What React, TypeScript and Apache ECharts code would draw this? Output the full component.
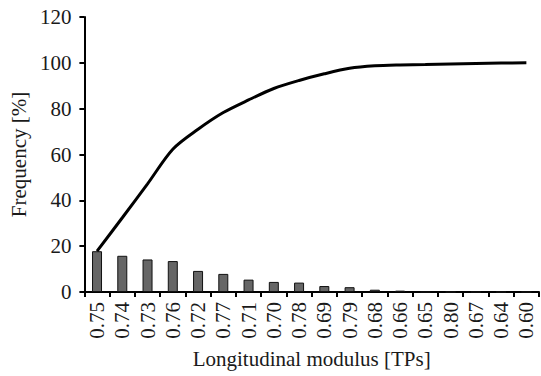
import React, { useEffect, useRef } from "react";
import * as echarts from "echarts";

const categories = ["0.75", "0.74", "0.73", "0.76", "0.72", "0.77", "0.71", "0.70", "0.78", "0.69", "0.79", "0.68", "0.66", "0.65", "0.80", "0.67", "0.64", "0.60"];
const frequency = [17.8, 15.8, 14.2, 13.5, 9.2, 7.9, 5.4, 4.4, 4.1, 2.6, 2.1, 1.0, 0.6, 0, 0, 0, 0, 0];
const cumulative = [17.8, 32.4, 47.2, 62.3, 71.0, 78.3, 83.8, 88.8, 92.3, 95.2, 97.6, 98.7, 99.1, 99.3, 99.5, 99.7, 99.9, 100];
const yTicks = { min: 0, max: 120, interval: 20 };

const FONT = "'Liberation Serif', 'Times New Roman', serif";

export default function App() {
  const ref = useRef<HTMLDivElement>(null);
  useEffect(() => {
    if (!ref.current) return;
    const chart = echarts.init(ref.current, undefined, { renderer: "svg" });
    chart.setOption({
      animation: false,
      backgroundColor: "#ffffff",
      grid: { left: 79, right: 2, top: 17, bottom: 84, containLabel: false },
      xAxis: {
        type: "category",
        data: categories,
        boundaryGap: true,
        name: "Longitudinal modulus [TPs]",
        nameLocation: "middle",
        nameGap: 56,
        nameTextStyle: { fontFamily: FONT, fontSize: 21, color: "#1a1a1a" },
        axisLine: { lineStyle: { color: "#000", width: 2 } },
        axisTick: { show: true, length: 5, lineStyle: { color: "#000", width: 2 }, alignWithLabel: false },
        axisLabel: { rotate: 90, fontFamily: FONT, fontSize: 21, color: "#1a1a1a", margin: 10, interval: 0 },
        splitLine: { show: false },
      },
      yAxis: {
        type: "value",
        min: yTicks.min,
        max: yTicks.max,
        interval: yTicks.interval,
        name: "Frequency [%]",
        nameLocation: "middle",
        nameGap: 54,
        nameTextStyle: { fontFamily: FONT, fontSize: 21, color: "#1a1a1a" },
        axisLine: { show: true, lineStyle: { color: "#000", width: 2 } },
        axisTick: { show: true, length: 5, lineStyle: { color: "#000", width: 2 } },
        axisLabel: { fontFamily: FONT, fontSize: 21, color: "#1a1a1a", margin: 13 },
        splitLine: { show: false },
      },
      series: [
        {
          type: "bar",
          data: frequency,
          barWidth: 10,
          itemStyle: { color: "#666666", borderColor: "#111", borderWidth: 1 },
          z: 2,
        },
        {
          type: "line",
          data: cumulative,
          smooth: 0.3,
          showSymbol: false,
          symbol: "none",
          lineStyle: { color: "#000", width: 3 },
          z: 3,
        },
      ],
    });
    return () => chart.dispose();
  }, []);
  return (
    <div
      ref={ref}
      style={{ position: "fixed", left: 0, top: 0, width: 541, height: 376, background: "#fff" }}
    />
  );
}
